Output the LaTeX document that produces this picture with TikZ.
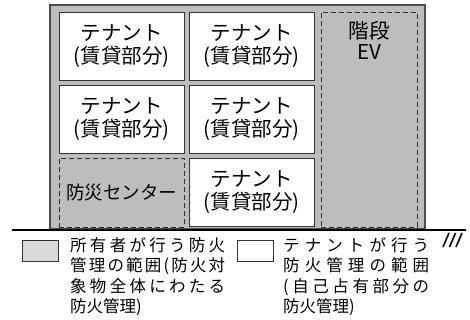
\documentclass[tikz,border=0pt]{standalone}
\usepackage{fontspec}
\newfontfamily\jpfont{Noto Sans CJK JP}
\makeatletter
\newcommand\spreadline[2]{\hbox to #1{\let\sp@sep\relax\@tfor\sp@c:=#2\do{\sp@sep\sp@c\def\sp@sep{\hfil}}}}
\makeatother
\begin{document}
\begin{tikzpicture}[x=1pt,y=-1pt,
every node/.style={font=\jpfont},
room/.style={draw=black!80,line width=0.9pt,fill=white,minimum width=125pt,minimum height=68pt,inner sep=0pt,align=center,font=\jpfont\fontsize{20.5}{23}\selectfont},
shared/.style={draw=black!80,dash pattern=on 5pt off 3pt,line width=0.9pt,inner sep=0pt,align=center},
keybox/.style={draw=black!80,line width=0.9pt,minimum width=36pt,minimum height=21pt,inner sep=0pt},
keytext/.style={anchor=north west,inner sep=0pt,align=left,font=\jpfont\fontsize{16.5}{20.5}\selectfont}]

\useasboundingbox (0,0) rectangle (470,320);

\node[draw=black!70,line width=1.2pt,fill=black!26,minimum width=375pt,minimum height=224pt,inner sep=0pt] (bldg) at (237.5,117) {};

\node[room] (t11) at (121.5,46) {テナント\\(賃貸部分)};
\node[room] (t12) at (251.5,46) {テナント\\(賃貸部分)};
\node[room] (t21) at (121.5,119) {テナント\\(賃貸部分)};
\node[room] (t22) at (251.5,119) {テナント\\(賃貸部分)};
\node[room] (t32) at (251.5,192.5) {テナント\\(賃貸部分)};
\node[shared,minimum width=125pt,minimum height=69pt,font=\jpfont\fontsize{18.5}{21}\selectfont] (center) at (121.5,192.5) {防災センター};
\node[shared,minimum width=96pt,minimum height=215pt] (stair) at (369,119.5) {};
\node[align=center,inner sep=0pt,font=\jpfont\fontsize{20.5}{21}\selectfont] (ev) at (369,40.5) {階段\\EV};

\coordinate (gl) at (12,229.5);
\coordinate (gr) at (466,229.5);
\draw[line width=2pt] (gl) -- (gr);
\foreach \x in {443,449.5,456}
  \draw[line width=1.6pt] (\x,247) -- ++(6,-14);

\node[keybox,fill=black!15] (ownerkey) at (40,250.5) {};
\node[keytext] (ownertext) at (70,237) {\spreadline{155pt}{所有者が行う防火}\\\spreadline{155pt}{管理の範囲(防火対}\\\spreadline{155pt}{象物全体にわたる}\\防火管理)};
\node[keybox] (tenantkey) at (255,250.5) {};
\node[keytext] (tenanttext) at (283,237) {\spreadline{146pt}{テナントが行う}\\\spreadline{146pt}{防火管理の範囲}\\\spreadline{146pt}{(自己占有部分の}\\防火管理)};

\end{tikzpicture}
\end{document}
